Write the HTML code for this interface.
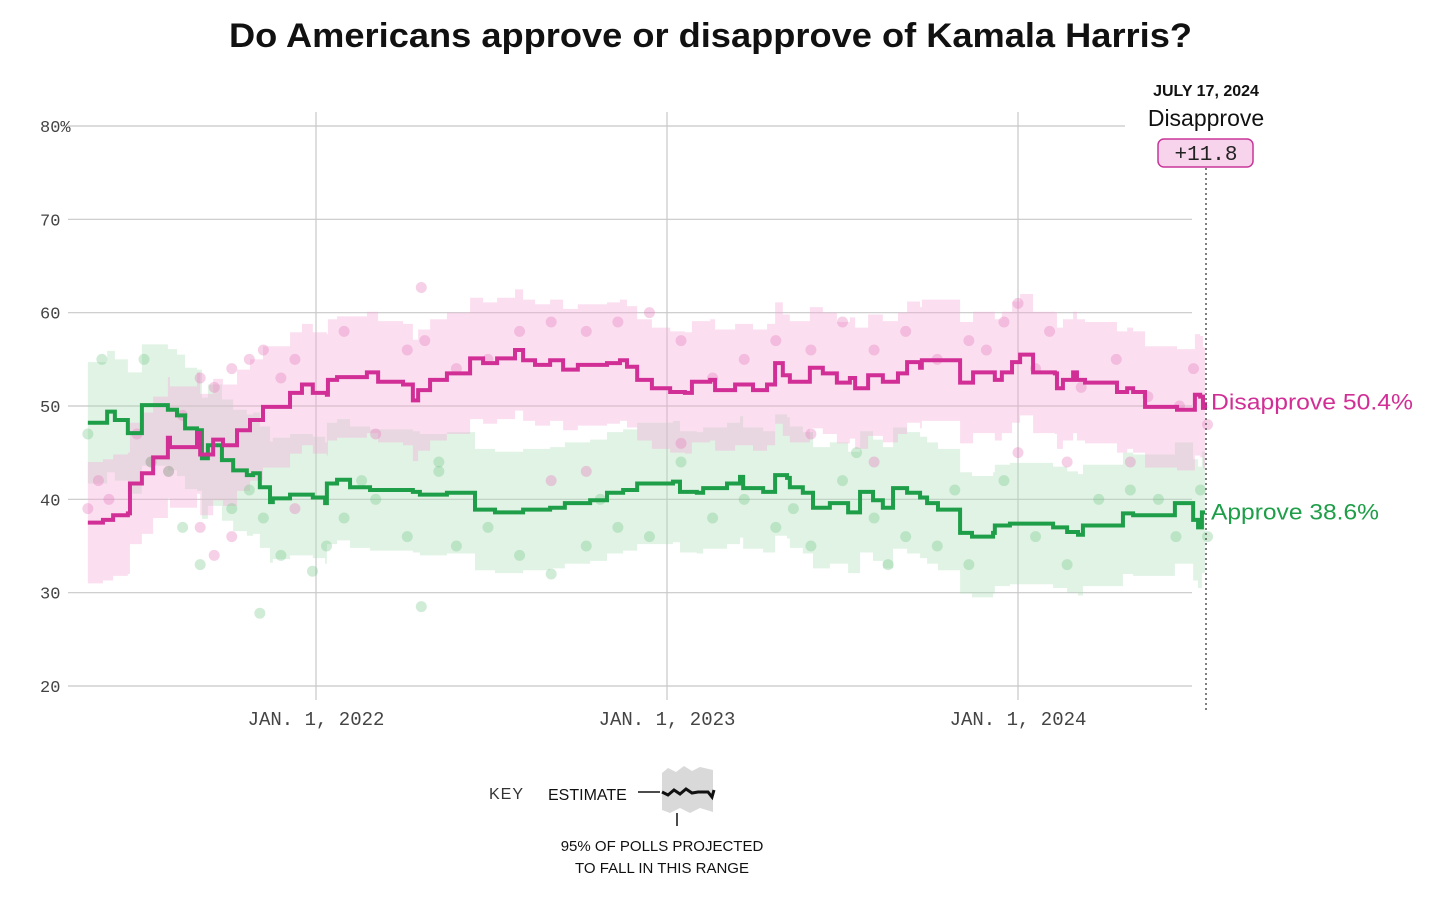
<!DOCTYPE html>
<html><head><meta charset="utf-8">
<style>
body{margin:0;background:#fff;width:1456px;height:904px;overflow:hidden;font-family:"Liberation Sans",sans-serif}
svg{position:absolute;left:0;top:0}
</style></head>
<body>
<svg id="chart" width="1456" height="904">
<text x="229" y="47" font-size="34" font-weight="bold" fill="#111" textLength="963" lengthAdjust="spacingAndGlyphs">Do Americans approve or disapprove of Kamala Harris?</text>
<g id="grid"></g>
<g id="bands"></g>
<g id="dots"></g>
<g id="lines"></g>
<g id="labels"></g>
<g>
<line x1="1206" y1="168" x2="1206" y2="713" stroke="#555" stroke-width="1.5" stroke-dasharray="2,3"/>
<text x="1206" y="96" text-anchor="middle" font-size="16" font-weight="bold" fill="#111">JULY 17, 2024</text>
<text x="1206" y="126" text-anchor="middle" font-size="23" fill="#111">Disapprove</text>
<rect x="1158" y="139" width="95" height="28" rx="6" fill="#f8d3ec" stroke="#c8369a" stroke-width="1.5"/>
<text x="1206" y="160" text-anchor="middle" font-size="21" font-family="Liberation Mono,monospace" fill="#222">+11.8</text>
</g>
<g>
<text x="489" y="799" font-size="16" fill="#333" letter-spacing="1">KEY</text>
<text x="548" y="800" font-size="16" fill="#111">ESTIMATE</text>
<line x1="638" y1="792" x2="660" y2="792" stroke="#111" stroke-width="1.5"/>
<path d="M662,773 L668,768 L676,772 L684,766 L692,771 L700,767 L713,770 L713,812 L700,808 L690,813 L680,808 L670,813 L662,810 Z" fill="#d9d9d9"/>
<polyline points="662,792 668,795 674,790 680,794 686,789 692,793 698,792 708,792 712,797 714,790" fill="none" stroke="#111" stroke-width="3"/>
<line x1="677" y1="813" x2="677" y2="826" stroke="#111" stroke-width="1.5"/>
<text x="662" y="851" text-anchor="middle" font-size="15" fill="#111">95% OF POLLS PROJECTED</text>
<text x="662" y="873" text-anchor="middle" font-size="15" fill="#111">TO FALL IN THIS RANGE</text>
</g>
</svg>
<script>
const yTicks=[20,30,40,50,60,70,80];
const xTickYears=[2022,2023,2024];
const xTickLabels=["JAN. 1, 2022","JAN. 1, 2023","JAN. 1, 2024"];
const disT=[2021.35,2021.393,2021.422,2021.464,2021.47,2021.504,2021.536,2021.578,2021.584,2021.661,2021.67,2021.707,2021.735,2021.775,2021.812,2021.849,2021.926,2021.96,2021.991,2022.031,2022.034,2022.06,2022.145,2022.177,2022.248,2022.276,2022.291,2022.325,2022.373,2022.439,2022.476,2022.516,2022.567,2022.59,2022.624,2022.667,2022.704,2022.746,2022.829,2022.866,2022.886,2022.915,2022.957,2023.009,2023.051,2023.071,2023.123,2023.137,2023.194,2023.245,2023.285,2023.308,2023.33,2023.35,2023.407,2023.444,2023.484,2023.521,2023.536,2023.573,2023.615,2023.658,2023.684,2023.721,2023.726,2023.835,2023.872,2023.934,2023.954,2023.983,2024.006,2024.043,2024.105,2024.111,2024.128,2024.157,2024.168,2024.191,2024.282,2024.311,2024.328,2024.362,2024.453,2024.504,2024.519,2024.527,2024.533];
const disV=[37.5,37.8,38.3,38.5,41.7,42.8,44.5,46.6,45.6,47.1,44.8,46.4,45.8,47.4,48.5,49.9,51.4,52.3,51.4,51.2,52.8,53.1,53.6,52.6,52.3,50.6,51.7,52.8,53.5,55.1,54.6,55.1,56.0,54.9,54.4,54.9,53.9,54.4,54.6,54.9,54.2,52.8,51.9,51.5,51.4,52.6,52.8,51.7,52.3,51.7,52.3,54.6,53.3,52.6,54.1,53.5,52.5,53.0,51.9,53.3,52.6,53.5,54.7,54.1,54.9,52.5,53.6,52.8,53.6,54.7,55.5,53.6,53.5,51.9,52.8,53.6,52.8,52.5,51.5,51.9,51.5,49.9,49.6,51.2,51.0,49.8,50.4];
const appT=[2021.35,2021.405,2021.427,2021.464,2021.504,2021.578,2021.604,2021.627,2021.661,2021.675,2021.692,2021.732,2021.764,2021.803,2021.821,2021.84,2021.869,2021.877,2021.926,2021.991,2022.026,2022.031,2022.06,2022.097,2022.154,2022.276,2022.296,2022.373,2022.453,2022.51,2022.59,2022.667,2022.709,2022.781,2022.829,2022.875,2022.915,2023.017,2023.037,2023.085,2023.103,2023.171,2023.208,2023.217,2023.274,2023.308,2023.342,2023.35,2023.387,2023.416,2023.464,2023.516,2023.55,2023.587,2023.615,2023.644,2023.684,2023.721,2023.741,2023.772,2023.835,2023.869,2023.929,2023.934,2023.977,2024.1,2024.14,2024.171,2024.185,2024.299,2024.328,2024.447,2024.499,2024.513,2024.524,2024.533];
const appV=[48.2,49.4,48.5,47.1,50.1,49.6,49.0,47.6,47.4,44.4,45.8,44.2,43.1,42.6,42.8,41.3,39.7,40.1,40.5,40.2,39.6,41.7,42.1,41.3,41.0,40.8,40.5,40.7,38.9,38.6,38.9,39.1,39.6,39.9,40.7,41.0,41.7,41.9,40.8,40.7,41.2,41.7,42.4,41.2,40.8,42.6,42.3,41.3,40.7,39.1,39.6,38.6,40.8,39.9,39.1,41.2,40.7,40.2,39.6,38.9,36.4,36.0,36.4,37.2,37.4,37.0,36.5,36.2,37.2,38.5,38.3,39.6,37.8,37.0,38.6,38.6];
const disBandHalf=6.5;
const appBandHalf=6.5;
const disDotT=[2021.35,2021.38,2021.41,2021.49,2021.53,2021.58,2021.62,2021.67,2021.71,2021.76,2021.81,2021.85,2021.90,2021.94,2022.08,2022.17,2022.26,2022.31,2022.40,2022.49,2022.30,2022.58,2022.67,2022.77,2022.86,2022.95,2023.04,2023.13,2023.22,2023.31,2023.41,2023.50,2023.59,2023.68,2023.77,2023.86,2023.91,2023.96,2024.00,2024.05,2024.09,2024.18,2024.28,2024.37,2024.46,2024.50,2024.54,2022.77,2023.04,2023.59,2024.14,2024.32,2024.00,2021.76,2021.71,2021.67,2021.94,2022.67,2023.41];
const disDotV=[39,42,40,47,44,43,49,53,52,54,55,56,53,55,58,47,56,57,54,55,62.7,58,59,58,59,60,57,53,55,57,56,59,56,58,55,57,56,59,61,54,58,52,55,51,50,54,48,43,46,44,44,44,45,36,34,37,39,42,47];
const appDotT=[2021.35,2021.39,2021.51,2021.53,2021.58,2021.62,2021.67,2021.76,2021.81,2021.85,2021.84,2021.90,2022.03,2021.99,2022.08,2022.17,2022.26,2022.35,2022.30,2022.40,2022.49,2022.58,2022.67,2022.77,2022.86,2022.95,2023.04,2023.13,2023.22,2023.31,2023.41,2023.50,2023.59,2023.63,2023.68,2023.77,2023.82,2023.86,2023.96,2024.05,2024.14,2024.23,2024.32,2024.54,2022.13,2022.35,2022.81,2023.54,2023.36,2024.45,2024.52,2024.40];
const appDotV=[47,55,55,44,43,37,33,39,41,38,27.8,34,35,32.3,38,40,36,43,28.5,35,37,34,32,35,37,36,44,38,40,37,35,42,38,33,36,35,41,33,42,36,33,40,41,36,42,44,40,45,39,36,41,40];

const NS="http://www.w3.org/2000/svg";
const X=t=>316+(t-2022)*351;
const Y=v=>126+(80-v)*(560/60);
function mk(tag,attrs,parent){const e=document.createElementNS(NS,tag);for(const k in attrs)e.setAttribute(k,attrs[k]);document.getElementById(parent).appendChild(e);return e;}
yTicks.forEach(v=>{
  const l=mk('line',{x1:68,x2:v===80?1125:1192,y1:Y(v),y2:Y(v),stroke:'#c8c8c8','stroke-width':1.2},'grid');
  
  
  const t=mk('text',{x:40,y:Y(v)+6,'font-size':17,'font-family':'Liberation Mono,monospace',fill:'#444'},'labels');
  t.textContent=v===80?'80%':String(v);
  
  
});
xTickYears.forEach((yr,i)=>{
  const l=mk('line',{x1:X(yr),x2:X(yr),y1:112,y2:700,stroke:'#c8c8c8','stroke-width':1.2},'grid');
  
  
  const t=mk('text',{x:X(yr),y:725,'text-anchor':'middle','font-size':19,'font-family':'Liberation Mono,monospace',fill:'#444'},'labels');
  t.textContent=xTickLabels[i];
  
  
});
function stepPts(T,V,off){let p=[];for(let i=0;i<T.length;i++){if(i>0)p.push([X(T[i]),Y(V[i-1]+off)]);p.push([X(T[i]),Y(V[i]+off)]);}return p;}
function band(T,V,half,color,name){
  const up=stepPts(T,V,half),dn=stepPts(T,V,-half).reverse();
  const p=mk('polygon',{points:up.concat(dn).map(q=>q.join(',')).join(' '),fill:color},'bands');
  
  
}
band(appT,appV,appBandHalf,'rgba(170,220,180,0.35)','approve-band');
band(disT,disV,disBandHalf,'rgba(245,170,215,0.38)','disapprove-band');
disDotT.forEach((t,i)=>{const c=mk('circle',{cx:X(t),cy:Y(disDotV[i]),r:5.5,fill:'rgba(230,120,185,0.35)'},'dots');
  
  });
appDotT.forEach((t,i)=>{const c=mk('circle',{cx:X(t),cy:Y(appDotV[i]),r:5.5,fill:'rgba(110,195,130,0.32)'},'dots');
  
  });
function line(T,V,color,name){
  const p=mk('polyline',{points:stepPts(T,V,0).map(q=>q.join(',')).join(' '),fill:'none',stroke:color,'stroke-width':4,'stroke-linejoin':'miter'},'lines');
  
  
}
line(appT,appV,'#1e9e48','approve-line');
line(disT,disV,'#d12f96','disapprove-line');
const dl=mk('text',{x:1211,y:Y(disV[disV.length-1])+7,'font-size':22,fill:'#d12f96',textLength:202,lengthAdjust:'spacingAndGlyphs'},'labels');
dl.textContent='Disapprove '+disV[disV.length-1]+'%';


const al=mk('text',{x:1211,y:Y(appV[appV.length-1])+7,'font-size':22,fill:'#1e9e48',textLength:168,lengthAdjust:'spacingAndGlyphs'},'labels');
al.textContent='Approve '+appV[appV.length-1]+'%';


</script>
</body></html>
